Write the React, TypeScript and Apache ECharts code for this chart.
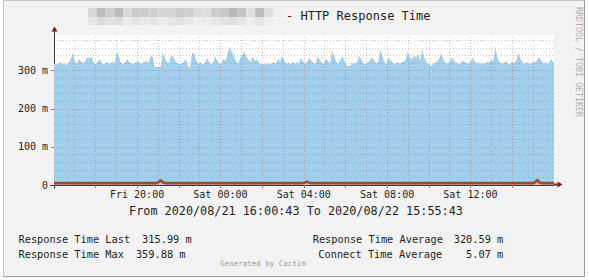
import React, { useEffect, useRef } from 'react';
import * as echarts from 'echarts';

// Time axis in hours since Fri 00:00 (2020/08/21)
const START_H = 16 + 43 / 3600; // Fri 16:00:43
const SPAN_H = 24;
const Y_MAX = 393.7;

const responseTime: number[] = [
  320, 316, 318, 322, 317, 319, 315, 321, 330, 347,
  322, 318, 331, 324, 319, 326, 336, 333, 336, 321,
  317, 324, 330, 318, 316, 322, 320, 318, 324, 319,
  350, 338, 321, 317, 323, 330, 322, 319, 316, 321,
  325, 320, 318, 322, 327, 319, 335, 340, 312, 309,
  310, 311, 350, 333, 322, 318, 340, 337, 324, 320,
  316, 319, 323, 330, 314, 305, 348, 345, 326, 318,
  322, 316, 319, 333, 325, 317, 320, 338, 327, 319,
  318, 332, 326, 345, 362, 348, 340, 324, 318, 332,
  342, 350, 336, 328, 322, 338, 326, 328, 320, 316,
  318, 316, 320, 317, 319, 323, 318, 330, 324, 340,
  328, 319, 321, 317, 324, 316, 322, 319, 334, 325,
  318, 323, 334, 326, 320, 317, 338, 329, 321, 318,
  332, 325, 319, 352, 337, 322, 318, 330, 338, 322,
  313, 312, 315, 320, 318, 324, 340, 328, 319, 317,
  322, 326, 335, 327, 319, 324, 355, 338, 321, 318,
  335, 326, 320, 317, 322, 318, 320, 324, 328, 350,
  336, 329, 340, 333, 345, 327, 355, 334, 321, 318,
  312, 316, 321, 325, 330, 345, 331, 320, 318, 323,
  335, 328, 322, 319, 317, 326, 325, 320, 318, 321,
  335, 326, 319, 322, 317, 320, 318, 324, 321, 330,
  324, 360, 333, 322, 318, 320, 325, 319, 316, 322,
  320, 327, 345, 331, 320, 318, 322, 319, 317, 324,
  321, 328, 335, 326, 318, 322, 317, 324, 330, 316,
];

const connectTime: number[] = [
  5.0, 5.0, 4.9, 5.0, 5.1, 5.0, 5.0, 4.9, 5.0, 5.0, 5.1, 5.0, 5.0, 4.9, 5.0, 5.0, 5.0, 5.1, 5.0, 5.0,
  5.0, 4.9, 5.0, 5.0, 5.0, 5.1, 5.0, 5.0, 4.9, 5.0, 5.0, 5.0, 5.1, 5.0, 5.0, 4.9, 5.0, 5.0, 5.0, 5.0,
  5.0, 5.1, 5.0, 4.9, 5.0, 5.0, 5.0, 5.0, 5.1, 5.0, 7.5, 13.0, 7.0, 5.0, 5.0, 4.9, 5.0, 5.0, 5.1, 5.0,
  5.0, 5.0, 4.9, 5.0, 5.1, 5.0, 5.0, 5.0, 4.9, 5.0, 5.0, 5.1, 5.0, 5.0, 5.0, 4.9, 5.0, 5.0, 5.1, 5.0,
  5.0, 4.9, 5.0, 5.0, 5.1, 5.0, 5.0, 5.0, 4.9, 5.0, 5.0, 5.0, 5.1, 5.0, 5.0, 4.9, 5.0, 5.0, 5.0, 5.1,
  5.0, 5.0, 4.9, 5.0, 5.0, 5.1, 5.0, 5.0, 4.9, 5.0, 5.0, 5.0, 5.1, 5.0, 5.0, 4.9, 5.0, 5.0, 5.0, 5.0,
  6.5, 9.0, 6.0, 5.0, 4.9, 5.0, 5.0, 5.1, 5.0, 5.0, 4.9, 5.0, 5.0, 5.1, 5.0, 5.0, 5.0, 4.9, 5.0, 5.0,
  5.1, 5.0, 5.0, 4.9, 5.0, 5.0, 5.1, 5.0, 5.0, 5.0, 4.9, 5.0, 5.0, 5.1, 5.0, 5.0, 4.9, 5.0, 5.0, 5.0,
  5.1, 5.0, 5.0, 4.9, 5.0, 5.0, 5.0, 5.1, 5.0, 5.0, 4.9, 5.0, 5.0, 5.0, 5.1, 5.0, 5.0, 4.9, 5.0, 5.0,
  5.0, 5.1, 5.0, 5.0, 4.9, 5.0, 5.0, 5.0, 5.1, 5.0, 5.0, 4.9, 5.0, 5.0, 5.0, 5.1, 5.0, 5.0, 4.9, 5.0,
  5.0, 5.0, 5.1, 5.0, 5.0, 4.9, 5.0, 5.0, 5.0, 5.1, 5.0, 5.0, 4.9, 5.0, 5.0, 5.0, 5.1, 5.0, 5.0, 4.9,
  5.0, 5.0, 5.0, 5.1, 5.0, 5.0, 4.9, 5.0, 5.0, 5.0, 7.0, 13.5, 6.5, 5.0, 5.0, 4.9, 5.0, 5.0, 5.1, 5.0,
];

const xLabelHours = [20, 24, 28, 32, 36];
const xLabelTexts = ['Fri 20:00', 'Sat 00:00', 'Sat 04:00', 'Sat 08:00', 'Sat 12:00'];
const xTickHours = [18, 20, 22, 24, 26, 28, 30, 32, 34, 36, 38];
const majorGridHours = [18, 20, 22, 24, 26, 28, 30, 32, 34, 36, 38];
const minorGridHours = [17, 19, 21, 23, 25, 27, 29, 31, 33, 35, 37, 39];

const yLabelValues = [0, 100, 200, 300];
const yLabelTexts = ['0', '100 m', '200 m', '300 m'];
const majorGridValues = [100, 200, 300];
const minorGridValues = [20, 40, 60, 80, 120, 140, 160, 180, 220, 240, 260, 280, 320, 340, 360, 380];

const titleText = '- HTTP Response Time';
const rangeText = 'From 2020/08/21 16:00:43 To 2020/08/22 15:55:43';
const legendLeft = [
  { label: 'Response Time Last', value: '315.99 m' },
  { label: 'Response Time Max', value: '359.88 m' },
];
const legendRight = [
  { label: 'Response Time Average', value: '320.59 m' },
  { label: 'Connect Time Average', value: '5.07 m' },
];

// blurred host name blocks (pixelated image in the original title)
const blurTop = ['#d8d8d8', '#bdbdbd', '#cfcfcf', '#bcbcbc', '#dadada', '#cccccc', '#cdcdcd', '#d0d0d0', '#d6d6d6', '#d4d4d4', '#cbcbcb', '#cfcfcf', '#dcdcdc', '#dedede', '#cdcdcd', '#c9c9c9', '#b8b8b8', '#c4c4c4', '#e0e0e0', '#bcbcbc', '#dddddd', '#f0f0f0'];
const blurBottom = ['#e6e6e6', '#dcdcdc', '#e2e2e2', '#dedede', '#ececec', '#e4e4e4', '#e8e8e8', '#e6e6e6', '#ebebeb', '#e5e5e5', '#e2e2e2', '#e8e8e8', '#eeeeee', '#ececec', '#e6e6e6', '#e2e2e2', '#e0e0e0', '#e6e6e6', '#eeeeee', '#e4e4e4', '#ededed', '#f3f3f3'];

const MONO = '"DejaVu Sans Mono", monospace';
const TEXT_COLOR = '#1e1e1e';

export default function App() {
  const ref = useRef<HTMLDivElement>(null);

  useEffect(() => {
    if (!ref.current) return;
    const chart = echarts.init(ref.current, undefined, { renderer: 'svg' });
    const n = responseTime.length;
    const t = (i: number) => START_H + (i * SPAN_H) / (n - 1);
    const respData = responseTime.map((v, i) => [t(i), v]);
    const connData = connectTime.map((v, i) => [t(i), v]);

    const minorStyle = { color: 'rgba(110,110,110,0.33)', width: 1, type: [1, 2] };
    const majorStyle = { color: 'rgba(210,40,40,0.33)', width: 1, type: [1, 2] };
    const gridLines: any[] = [
      ...minorGridHours.map((h) => ({ xAxis: h, lineStyle: minorStyle })),
      ...majorGridHours.map((h) => ({ xAxis: h, lineStyle: majorStyle })),
      ...minorGridValues.map((v) => ({ yAxis: v, lineStyle: minorStyle })),
      ...majorGridValues.map((v) => ({ yAxis: v, lineStyle: majorStyle })),
    ];

    const blurRects: any[] = [];
    blurTop.forEach((c, i) => {
      blurRects.push({ type: 'rect', shape: { x: 88 + i * 8.8, y: 8, width: 8.8, height: 9 }, style: { fill: c }, z: 1 });
    });
    blurBottom.forEach((c, i) => {
      blurRects.push({ type: 'rect', shape: { x: 88 + i * 8.8, y: 17, width: 8.8, height: 8 }, style: { fill: c }, z: 1 });
    });

    const txt = (text: string, x: number, y: number, size: number, align: string, fill = TEXT_COLOR, extra: any = {}) => ({
      type: 'text',
      x,
      y,
      z: 20,
      ...extra,
      style: { text, font: `${size}px ${MONO}`, fill, align, verticalAlign: 'middle' },
    });

    const option: any = {
      animation: false,
      grid: { left: 54, top: 35, width: 500, height: 150, show: false },
      xAxis: {
        type: 'value',
        min: START_H,
        max: START_H + SPAN_H,
        axisLine: { show: true, lineStyle: { color: '#3a3a3a', width: 1 } },
        axisTick: { show: true, customValues: xTickHours, length: 3, lineStyle: { color: '#b07070' } },
        axisLabel: {
          customValues: xLabelHours,
          margin: 4,
          fontFamily: MONO,
          fontSize: 10,
          color: TEXT_COLOR,
          formatter: (v: number) => {
            const k = xLabelHours.findIndex((h) => Math.abs(h - v) < 1e-6);
            return k >= 0 ? xLabelTexts[k] : '';
          },
        },
        splitLine: { show: false },
      },
      yAxis: {
        type: 'value',
        min: 0,
        max: Y_MAX,
        axisLine: { show: true, lineStyle: { color: '#3a3a3a', width: 1 } },
        axisTick: { show: true, customValues: yLabelValues, length: 3, lineStyle: { color: '#b07070' } },
        axisLabel: {
          customValues: yLabelValues,
          margin: 6,
          fontFamily: MONO,
          fontSize: 10,
          color: TEXT_COLOR,
          formatter: (v: number) => {
            const k = yLabelValues.findIndex((h) => Math.abs(h - v) < 1e-6);
            return k >= 0 ? yLabelTexts[k] : '';
          },
        },
        splitLine: { show: false },
      },
      series: [
        {
          name: 'Response Time',
          type: 'line',
          data: respData,
          showSymbol: false,
          lineStyle: { width: 0 },
          areaStyle: { color: '#A2CFEC', opacity: 1 },
          z: 2,
        },
        {
          name: 'grid',
          type: 'line',
          data: [],
          silent: true,
          markLine: {
            silent: true,
            symbol: ['none', 'none'],
            label: { show: false },
            z: 5,
            data: gridLines,
          },
        },
        {
          name: 'Connect Time',
          type: 'line',
          data: connData,
          showSymbol: false,
          lineStyle: { width: 2.6, color: '#A9461F' },
          z: 10,
        },
      ],
      graphic: [
        { type: 'rect', shape: { x: 3.5, y: 0.5, width: 581, height: 276 }, style: { fill: '#F3F3F3', stroke: '#c4c4c4', lineWidth: 1 }, z: -20 },
        { type: 'line', shape: { x1: 584.5, y1: 0.5, x2: 584.5, y2: 276.5 }, style: { stroke: '#9a9a9a', lineWidth: 1 }, z: -19 },
        { type: 'line', shape: { x1: 3.5, y1: 276.5, x2: 584.5, y2: 276.5 }, style: { stroke: '#9a9a9a', lineWidth: 1 }, z: -19 },
        { type: 'rect', shape: { x: 54, y: 35, width: 500, height: 150 }, style: { fill: '#FFFFFF' }, z: -18 },
        ...blurRects,
        txt(titleText, 286, 15.5, 12, 'left'),
        // axis extensions and arrows
        { type: 'line', shape: { x1: 54.5, y1: 31, x2: 54.5, y2: 35 }, style: { stroke: '#3a3a3a', lineWidth: 1 }, z: 12 },
        { type: 'line', shape: { x1: 54.5, y1: 185, x2: 54.5, y2: 188.5 }, style: { stroke: '#3a3a3a', lineWidth: 1 }, z: 12 },
        { type: 'line', shape: { x1: 50, y1: 185.5, x2: 54, y2: 185.5 }, style: { stroke: '#3a3a3a', lineWidth: 1 }, z: 12 },
        { type: 'line', shape: { x1: 554, y1: 184.5, x2: 558, y2: 184.5 }, style: { stroke: '#7a2a18', lineWidth: 2 }, z: 12 },
        { type: 'polygon', shape: { points: [[51.5, 31.5], [57.5, 31.5], [54.5, 26.5]] }, style: { fill: '#7f1f1f' }, z: 12 },
        { type: 'polygon', shape: { points: [[557.5, 181.5], [557.5, 187.5], [562.5, 184.5]] }, style: { fill: '#7f1f1f' }, z: 12 },
        txt(rangeText, 296, 210.5, 11.8, 'center'),
        txt(legendLeft[0].label, 18.5, 238.5, 10.3, 'left'),
        txt(legendLeft[0].value, 191.7, 238.5, 10.3, 'right'),
        txt(legendLeft[1].label, 18.5, 253.5, 10.3, 'left'),
        txt(legendLeft[1].value, 185.5, 253.5, 10.3, 'right'),
        txt(legendRight[0].label, 312.7, 238.5, 10.3, 'left'),
        txt(legendRight[0].value, 503.3, 238.5, 10.3, 'right'),
        txt(legendRight[1].label, 442.3, 253.5, 10.3, 'right'),
        txt(legendRight[1].value, 503.3, 253.5, 10.3, 'right'),
        txt('Generated by Cacti®', 263, 263.5, 7.5, 'center', '#9a9a9a'),
        txt('RRDTOOL / TOBI OETIKER', 578.5, 62, 8.3, 'center', '#b0b0b0', { rotation: -Math.PI / 2 }),
      ],
    };

    chart.setOption(option);
    return () => chart.dispose();
  }, []);

  return (
    <div
      ref={ref}
      style={{ position: 'absolute', left: 0, top: 0, width: 589, height: 280, background: '#ffffff' }}
    />
  );
}
